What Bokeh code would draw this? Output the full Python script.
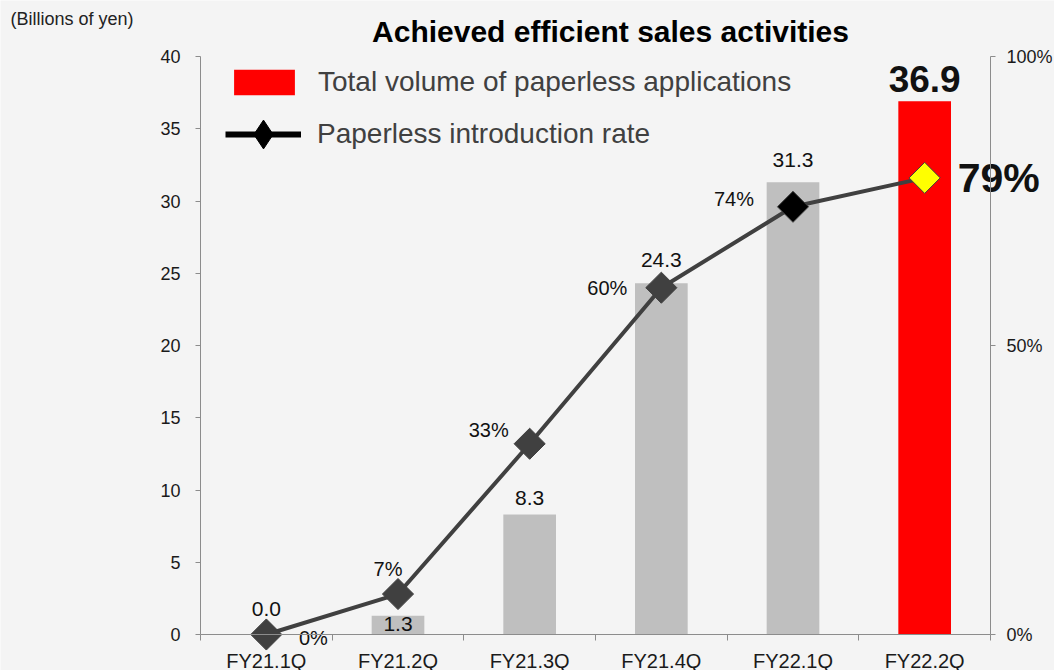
import math
from bokeh.plotting import figure
from bokeh.models import (Range1d, LinearAxis, FixedTicker, NumeralTickFormatter,
                          ColumnDataSource, Legend, LegendItem, Label)
from bokeh.core.properties import value
from bokeh.embed import file_html
from bokeh.resources import INLINE

# ---- data ----
categories = ["FY21.1Q", "FY21.2Q", "FY21.3Q", "FY21.4Q", "FY22.1Q", "FY22.2Q"]
volume = [0.0, 1.3, 8.3, 24.3, 31.3, 36.9]          # billions of yen
rate = [0, 7, 33, 60, 74, 79]                        # %
y_ticks = [0, 5, 10, 15, 20, 25, 30, 35, 40]
rate_ticks = [0, 0.5, 1.0]
title_text = "Achieved efficient sales activities"
unit_text = "(Billions of yen)"
legend_labels = ["Total volume of paperless applications", "Paperless introduction rate"]

# ---- styles / layout ----
FONT = value("Liberation Sans")
bar_colors = ["#BFBFBF"] * 5 + ["#FF0000"]
marker_fill = ["#404040", "#404040", "#404040", "#404040", "#000000", "#FFFF00"]
vol_label_dy = [-26, 8, -17, -23, -22, -22]
vol_label_size = ["21px"] * 5 + ["37px"]
vol_label_style = ["normal"] * 5 + ["bold"]
rate_label_dx = [47, -10, -41, -54, -59, 74]
rate_label_dy = [3, -25, -14, 0, -8, 0]
rate_label_size = ["20px"] * 5 + ["41px"]
rate_label_style = ["normal"] * 5 + ["bold"]

W, H = 1054, 670
PLOT_L, PLOT_R, PLOT_T, PLOT_B = 200, 990, 56, 634   # axis frame in pixels
NCAT = len(categories)
PXX = (PLOT_R - PLOT_L) / NCAT
PXY = (PLOT_B - PLOT_T) / 40.0
X0 = -PLOT_L / PXX
X1 = NCAT + (W - PLOT_R) / PXX
Y0 = -(H - PLOT_B) / PXY
Y1 = 40 + PLOT_T / PXY


def px_x(px):
    return X0 + px / PXX


def px_y(py):
    return Y1 - py / PXY


xs = [i + 0.5 for i in range(NCAT)]

src = ColumnDataSource(dict(
    x=xs, vol=volume, rate=[r / 100 for r in rate],
    bar_color=bar_colors, mfill=marker_fill,
    vol_txt=[f"{v:.1f}" for v in volume], vol_dy=vol_label_dy,
    vol_size=vol_label_size, vol_style=vol_label_style,
    rate_txt=[f"{r}%" for r in rate], rate_dx=rate_label_dx, rate_dy=rate_label_dy,
    rate_size=rate_label_size, rate_style=rate_label_style,
))

p = figure(frame_width=W, frame_height=H, width=W, height=H,
           x_range=Range1d(X0, X1), y_range=Range1d(Y0, Y1),
           output_backend="svg", toolbar_location=None,
           min_border=0, x_axis_location=None, y_axis_location=None)
p.extra_y_ranges = {"rate": Range1d(Y0 / 40, Y1 / 40)}
p.background_fill_color = "#F4F4F4"
p.border_fill_color = "#F4F4F4"
p.outline_line_color = None
p.xgrid.visible = False
p.ygrid.visible = False

AX = "#8C8C8C"

# left axis
ly = LinearAxis(ticker=FixedTicker(ticks=y_ticks), bounds=(0, 40), fixed_location=0)
ly.axis_line_color = AX
ly.major_tick_line_color = AX
ly.major_tick_out = 5
ly.major_tick_in = 0
ly.minor_tick_line_color = None
ly.major_label_standoff = 15
ly.major_label_text_font = "Liberation Sans"
ly.major_label_text_font_size = "18px"
ly.major_label_text_color = "#1A1A1A"
p.add_layout(ly, "left")

# right axis
ry = LinearAxis(y_range_name="rate", ticker=FixedTicker(ticks=rate_ticks), bounds=(0, 1),
                formatter=NumeralTickFormatter(format="0%"), fixed_location=NCAT)
ry.axis_line_color = AX
ry.major_tick_line_color = AX
ry.major_tick_out = 5
ry.major_tick_in = 0
ry.minor_tick_line_color = None
ry.major_label_standoff = 11
ry.major_label_text_font = "Liberation Sans"
ry.major_label_text_font_size = "18px"
ry.major_label_text_color = "#1A1A1A"
p.add_layout(ry, "right")

# bottom axis at y = 0
bx = LinearAxis(ticker=FixedTicker(ticks=xs, minor_ticks=list(range(NCAT + 1))),
                fixed_location=0, bounds=(0, NCAT))
bx.major_label_overrides = {x: c for x, c in zip(xs, categories)}
bx.axis_line_color = AX
bx.major_tick_line_color = None
bx.major_tick_out = 0
bx.major_tick_in = 0
bx.minor_tick_line_color = AX
bx.minor_tick_out = 6
bx.minor_tick_in = 0
bx.major_label_standoff = 9
bx.major_label_text_font = "Liberation Sans"
bx.major_label_text_font_size = "20px"
bx.major_label_text_color = "#1A1A1A"
p.add_layout(bx, "below")

# bars
p.vbar(x="x", top="vol", bottom=0, width=0.4, fill_color="bar_color", line_color=None, source=src)

# rate line & markers
p.line(x="x", y="rate", y_range_name="rate", line_color="#404040", line_width=4, source=src)
p.scatter(x="x", y="rate", y_range_name="rate", marker="square", size=22, angle=math.pi / 4,
          fill_color="mfill", line_color="#404040", line_width=1, source=src)

# value labels
p.text(x="x", y="vol", text="vol_txt", x_offset=0, y_offset="vol_dy", source=src,
       text_align="center", text_baseline="middle", text_font=FONT,
       text_font_size="vol_size", text_font_style="vol_style", text_color="#111111")
p.text(x="x", y="rate", y_range_name="rate", text="rate_txt", x_offset="rate_dx",
       y_offset="rate_dy", source=src, text_align="center", text_baseline="middle",
       text_font=FONT, text_font_size="rate_size", text_font_style="rate_style",
       text_color="#111111")

# legend: hidden renderers that carry the legend styling
leg_bar = p.vbar(x="x", top="vol", width=0.4, fill_color="#FF0000", line_color=None,
                 source=src, visible=False)
leg_line = p.line(x="x", y="rate", y_range_name="rate", line_color="#000000", line_width=6,
                  source=src, visible=False)
leg_mark = p.scatter(x="x", y="rate", y_range_name="rate", marker="diamond", size=29,
                     fill_color="#000000", line_color="#000000", source=src, visible=False)

common = dict(orientation="vertical", glyph_width=76, label_standoff=16,
              padding=0, margin=0, border_line_color=None, background_fill_alpha=0,
              label_text_font="Liberation Sans", label_text_font_size="28px",
              label_text_color="#404040", click_policy="none")
legend1 = Legend(items=[LegendItem(label=legend_labels[0], renderers=[leg_bar])],
                 location=(226, H - 98), glyph_height=32, **common)
legend2 = Legend(items=[LegendItem(label=legend_labels[1], renderers=[leg_line, leg_mark])],
                 location=(225, H - 170), glyph_height=72, **common)
p.add_layout(legend1, "center")
p.add_layout(legend2, "center")

# titles
p.add_layout(Label(x=px_x(610), y=px_y(31), text=title_text, text_align="center",
                   text_baseline="middle", text_font="Liberation Sans", text_font_size="30px",
                   text_font_style="bold", text_color="#000000"))
p.add_layout(Label(x=px_x(10), y=px_y(18), text=unit_text, text_align="left",
                   text_baseline="middle", text_font="Liberation Sans", text_font_size="18px",
                   text_color="#222222"))

open("out.html", "w").write(file_html(p, INLINE))
